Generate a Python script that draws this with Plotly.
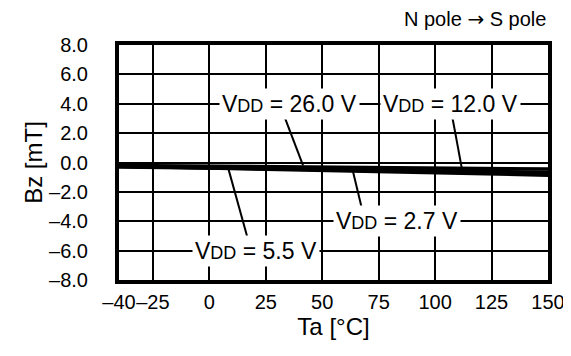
import plotly.graph_objects as go

ta = [-40, -25, 0, 25, 50, 75, 100, 125, 150]
bz_2v7 = [-0.25, -0.30, -0.38, -0.46, -0.54, -0.62, -0.70, -0.78, -0.86]
bz_5v5 = [-0.25, -0.29, -0.36, -0.43, -0.50, -0.57, -0.63, -0.69, -0.76]
bz_12v = [-0.30, -0.33, -0.37, -0.42, -0.47, -0.52, -0.56, -0.61, -0.66]
bz_26v = [-0.20, -0.22, -0.25, -0.28, -0.31, -0.35, -0.38, -0.42, -0.45]

x_ticks = [-40, -25, 0, 25, 50, 75, 100, 125, 150]
x_labels = ['–40', '–25', '0', '25', '50', '75', '100', '125', '150']
y_ticks = [8, 6, 4, 2, 0, -2, -4, -6, -8]
y_labels = ['8.0', '6.0', '4.0', '2.0', '0.0', '–2.0', '–4.0', '–6.0', '–8.0']

dd = 'V<span style="font-size:18px">DD</span>'
# label text, label position, pointer tail, pointer head
labels = [
    (dd + ' = 26.0 V', 35.3, 4.0, (32.6, 3.4), (41.5, -0.2)),
    (dd + ' = 12.0 V', 107.0, 4.0, (107.5, 3.2), (111.9, -0.45)),
    (dd + ' = 2.7 V', 83.0, -4.0, (68.0, -3.4), (63.6, -0.6)),
    (dd + ' = 5.5 V', 20.5, -6.0, (16.7, -5.0), (8.3, -0.35)),
]

fig = go.Figure()
for ys in [bz_2v7, bz_5v5, bz_12v, bz_26v]:
    fig.add_trace(go.Scatter(x=ta, y=ys, mode='lines',
                             line=dict(color='black', width=3.5),
                             showlegend=False))

for text, lx, ly, tail, head in labels:
    fig.add_shape(type='line', x0=tail[0], y0=tail[1], x1=head[0], y1=head[1],
                  line=dict(color='black', width=2), layer='above')
    fig.add_annotation(x=lx, y=ly, text=text, showarrow=False,
                       bgcolor='white', borderpad=2,
                       font=dict(size=23, color='black'))

fig.add_annotation(x=1, y=1, xref='paper', yref='paper', yshift=26,
                   xanchor='right', yanchor='middle', showarrow=False,
                   text='N pole <span style="font-family:DejaVu Sans">→</span> S pole',
                   font=dict(size=20, color='black'))

fig.update_xaxes(range=[-40, 150], tickvals=x_ticks, ticktext=x_labels,
                 tickangle=0, ticklabeloverflow='allow', automargin=False,
                 showgrid=True, gridcolor='black', gridwidth=2,
                 showline=True, linecolor='black', linewidth=4, mirror=True,
                 zeroline=False, ticks='', ticklabelstandoff=1,
                 title=dict(text='Ta [°C]', standoff=4),
                 tickfont=dict(size=20, color='black'))
fig.update_yaxes(range=[-8, 8], tickvals=y_ticks, ticktext=y_labels,
                 automargin=False,
                 showgrid=True, gridcolor='black', gridwidth=2,
                 showline=True, linecolor='black', linewidth=4, mirror=True,
                 zeroline=False, ticks='', ticklabelstandoff=23,
                 title=dict(text='Bz [mT]', standoff=1),
                 tickfont=dict(size=20, color='black'))

fig.update_layout(
    width=563,
    height=340,
    margin={'l': 111, 'r': 23, 't': 37, 'b': 68},
    plot_bgcolor='white',
    paper_bgcolor='white',
    font=dict(family='Liberation Sans, Arial', size=20, color='black'),
)

fig.write_html('out.html')
